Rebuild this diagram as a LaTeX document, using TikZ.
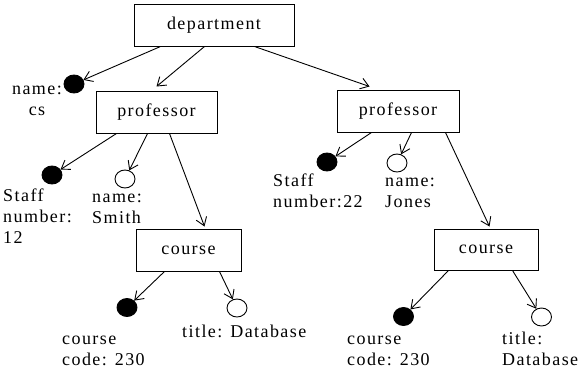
\documentclass[tikz,border=0pt]{standalone}
\usepackage{fontspec}
\setmainfont{Liberation Serif}[LetterSpace=8]
\usetikzlibrary{arrows.meta,shapes.geometric}
\begin{document}
\begin{tikzpicture}[x=1pt,y=-1pt,
  every node/.style={font=\fontsize{18}{21}\selectfont},
  box/.style={draw,line width=1pt,minimum width=#1,minimum height=42,inner sep=0},
  full/.style={ellipse,fill=black,draw,line width=0.9pt,minimum width=20,minimum height=18,inner sep=0},
  empty/.style={ellipse,fill=white,draw,line width=0.9pt,minimum width=20,minimum height=18,inner sep=0},
  lbl/.style={inner sep=0,align=left,anchor=base west},
  arr/.style={-{Straight Barb[length=8pt,width=11pt]},line width=0.9pt}]
\useasboundingbox (0,0) rectangle (579,375);
% boxes
\node[box=160] (dept) at (214,25) {department};
\node[box=121] (lprof) at (156.5,112) {professor};
\node[box=122] (rprof) at (398,111) {professor};
\node[box=105] (lcourse) at (188.5,250) {course};
\node[box=104,minimum height=41] (rcourse) at (486,249.5) {course};
% circles
\node[full] (ccs) at (74,84) {};
\node[full] (cls) at (52,175) {};
\node[empty] (csm) at (125,179) {};
\node[full] (crs) at (327,162) {};
\node[empty] (crj) at (397,163) {};
\node[full] (clc) at (127,307.5) {};
\node[empty] (clt) at (237,308) {};
\node[full] (crc) at (403.5,316.5) {};
\node[empty] (crt) at (541.5,317) {};
% labels (anchored at the baseline of the last line)
\node[inner sep=0,align=center,anchor=base] (tcs) at (37,115) {name:\\cs};
\node[lbl] (tls) at (3,243) {Staff\\number:\\12};
\node[lbl] (tsm) at (92,223) {name:\\Smith};
\node[lbl] (trs) at (273,207) {Staff\\number:22};
\node[lbl] (trj) at (385,207) {name:\\Jones};
\node[lbl] (tlc) at (62,365) {course\\code: 230};
\node[lbl] (tlt) at (182,337) {title: Database};
\node[lbl] (trc) at (347,365) {course\\code: 230};
\node[lbl] (trt) at (502,365) {title:\\Database};
% connectors
\draw[arr] ([xshift=27]dept.south west) -- (ccs);
\draw[arr] ([xshift=71]dept.south west) -- ([yshift=4]lprof.north);
\draw[arr] ([xshift=121]dept.south west) -- ([xshift=33,yshift=3]rprof.north west);
\draw[arr] ([xshift=21]lprof.south west) -- (cls);
\draw[arr] ([xshift=52]lprof.south west) -- (csm);
\draw[arr] ([xshift=74]lprof.south west) -- ([xshift=69,yshift=2]lcourse.north west);
\draw[arr] ([xshift=35]rprof.south west) -- (crs);
\draw[arr] ([xshift=75]rprof.south west) -- (crj);
\draw[arr] ([xshift=109]rprof.south west) -- ([xshift=56,yshift=2]rcourse.north west);
\draw[arr] ([xshift=29]lcourse.south west) -- (clc);
\draw[arr] ([xshift=84]lcourse.south west) -- (clt);
\draw[arr] ([xshift=15]rcourse.south west) -- (crc);
\draw[arr] ([xshift=79]rcourse.south west) -- (crt);
\end{tikzpicture}
\end{document}
